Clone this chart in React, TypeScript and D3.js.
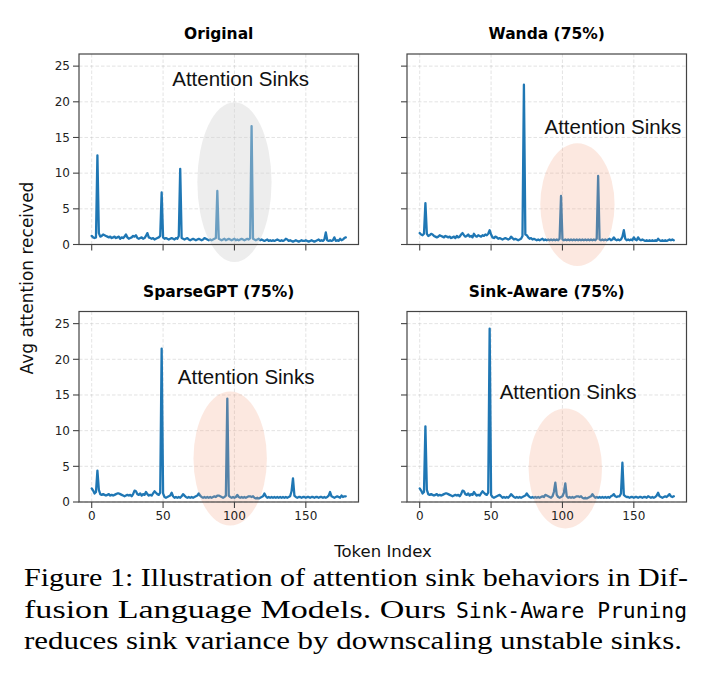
import { useMemo } from 'react';
import * as d3 from 'd3';

// Average attention received per token position (0..178) for each model variant.
const original = [
  1.2, 1.0, 0.9, 1.0, 12.5, 1.6, 1.1, 1.2, 1.4, 1.3,
  1.2, 1.1, 1.0, 1.1, 0.9, 1.0, 1.1, 0.9, 1.0, 1.1,
  0.8, 1.0, 0.9, 1.1, 1.4, 1.0, 0.8, 0.9, 1.0, 1.2,
  1.1, 1.3, 0.9, 0.8, 0.9, 1.0, 0.8, 0.9, 1.2, 1.6,
  1.0, 0.9, 0.8, 0.9, 0.7, 0.8, 0.9, 1.0, 1.2, 7.3,
  1.0, 0.8, 0.9, 0.8, 0.7, 0.8, 0.9, 0.8, 0.7, 0.9,
  0.8, 1.2, 10.6, 0.9, 0.8, 0.7, 0.8, 0.9, 0.7, 0.6,
  0.7, 0.8, 0.7, 0.6, 0.7, 0.8, 0.7, 0.6, 0.7, 0.9,
  0.8, 0.7, 0.6, 0.7, 0.6, 0.7, 0.8, 0.9, 7.5, 0.8,
  0.7, 0.6, 0.7, 0.8, 0.6, 0.7, 0.8, 0.7, 0.6, 0.7,
  0.8, 0.6, 0.7, 0.6, 0.7, 0.8, 0.7, 0.6, 0.7, 0.8,
  0.7, 0.9, 16.6, 0.8, 0.7, 0.6, 0.7, 0.8, 0.6, 0.7,
  0.6, 0.5, 0.6, 0.7, 0.5, 0.6, 0.5, 0.6, 0.5, 0.6,
  0.7, 0.6, 0.5, 0.6, 0.5, 0.6, 0.8, 0.7, 0.5, 0.6,
  0.5, 0.4, 0.5, 0.6, 0.5, 0.4, 0.5, 0.6, 0.5, 0.5,
  0.6, 0.5, 0.4, 0.5, 0.6, 0.5, 0.4, 0.5, 0.6, 0.7,
  0.5, 0.6, 0.5, 0.7, 1.7, 0.6, 0.5, 0.6, 0.5, 0.6,
  1.0, 0.5, 0.6, 0.5, 0.8, 0.6, 0.7, 0.9, 1.0,
];

const wanda = [
  1.6, 1.4, 1.3, 1.5, 5.8, 1.5, 1.2, 1.3, 1.5, 1.4,
  1.2, 1.1, 1.0, 1.1, 1.3, 1.2, 1.1, 1.0, 1.2, 1.1,
  1.0, 1.1, 0.9, 1.0, 1.1, 0.9, 1.2, 1.0, 1.1, 1.4,
  1.6, 1.3, 1.1, 1.2, 1.4, 1.1, 1.2, 1.0, 1.5, 1.2,
  1.1, 1.3, 1.2, 1.1, 1.3, 1.2, 1.4, 1.3, 1.5, 2.0,
  1.4, 1.0, 0.9, 1.1, 1.0, 0.8, 0.9, 0.8, 0.7, 0.8,
  0.9, 0.8, 0.7, 0.8, 1.1, 0.9, 0.7, 0.8, 0.7, 0.6,
  0.7, 0.8, 1.2, 22.4, 1.4, 1.3, 1.0, 0.8, 0.9, 0.7,
  0.8, 0.7, 0.6, 0.7, 0.6, 0.7, 0.8, 0.6, 0.7, 0.6,
  0.7, 0.6, 0.7, 0.6, 0.7, 0.6, 0.7, 0.6, 0.8, 6.8,
  0.7, 0.6, 0.7, 0.6, 0.7, 0.6, 0.7, 0.6, 0.7, 0.6,
  0.7, 0.6, 0.7, 0.6, 0.7, 0.6, 0.7, 0.6, 0.7, 0.6,
  0.7, 0.6, 0.7, 0.6, 0.8, 9.6, 0.7, 0.6, 0.7, 0.6,
  0.7, 0.6, 0.7, 0.8, 0.6, 0.7, 1.0, 0.7, 0.6, 0.7,
  0.6, 0.7, 1.1, 2.0, 0.8, 0.6, 0.7, 0.6, 0.7, 0.6,
  1.0, 0.7, 0.6, 1.0, 0.7, 0.6, 0.7, 0.6, 0.5, 0.6,
  0.5, 0.6, 0.5, 0.6, 0.5, 0.6, 0.5, 0.8, 0.6, 0.5,
  0.6, 0.5, 0.6, 0.5, 0.6, 0.7, 0.6, 0.7, 0.6,
];

const sparseGpt = [
  1.9, 1.6, 1.2, 1.4, 4.4, 1.7, 1.1, 1.0, 1.1, 1.0,
  0.9, 1.0, 1.1, 0.9, 1.0, 0.9, 1.0, 1.1, 1.2, 1.2,
  1.1, 1.0, 0.9, 0.8, 0.9, 1.0, 0.9, 1.0, 0.8, 1.1,
  1.6, 1.5, 1.1, 1.0, 1.2, 0.9, 1.1, 1.0, 1.4, 1.1,
  0.9, 1.0, 0.9, 1.2, 1.5, 1.3, 1.1, 1.0, 1.3, 21.5,
  1.2, 0.7, 0.6, 0.7, 0.8, 0.9, 1.3, 0.8, 0.6, 0.7,
  0.6, 0.7, 0.6, 0.8, 1.1, 0.9, 0.7, 0.6, 0.7, 0.6,
  0.7, 0.6, 0.7, 0.8, 0.9, 1.2, 0.9, 0.7, 0.6, 0.7,
  0.6, 0.7, 0.6, 0.7, 0.6, 0.7, 0.8, 0.7, 0.9, 0.9,
  0.8, 0.7, 0.6, 0.7, 0.9, 14.5, 0.9, 0.7, 0.6, 0.7,
  0.6, 0.7, 1.0, 0.7, 0.6, 0.7, 0.6, 0.7, 0.6, 0.7,
  0.8, 0.8, 0.7, 0.8, 0.6, 0.5, 0.6, 0.5, 0.6, 0.7,
  0.8, 1.2, 0.8, 0.6, 0.7, 0.6, 0.7, 0.6, 0.7, 0.6,
  0.7, 0.6, 0.7, 0.6, 0.7, 0.6, 0.7, 0.6, 0.7, 0.8,
  1.5, 3.3, 0.9, 0.7, 0.6, 0.7, 0.7, 0.6, 0.7, 0.7,
  0.6, 0.7, 0.7, 0.6, 0.7, 0.7, 0.6, 0.7, 0.7, 0.6,
  0.7, 0.7, 0.6, 0.7, 0.6, 0.7, 0.9, 1.4, 0.8, 0.7,
  0.6, 0.7, 0.8, 0.7, 0.6, 0.9, 0.7, 0.8, 0.8,
];

const sinkAware = [
  1.9, 1.6, 1.2, 1.4, 10.6, 1.7, 1.1, 1.0, 1.1, 1.0,
  0.9, 1.0, 1.1, 0.9, 1.0, 0.9, 1.0, 1.1, 1.2, 1.2,
  1.1, 1.0, 0.9, 0.8, 0.9, 1.0, 0.9, 1.0, 0.8, 1.1,
  1.6, 1.5, 1.1, 1.0, 1.2, 0.9, 1.1, 1.0, 1.4, 1.1,
  0.9, 1.0, 0.9, 1.2, 1.5, 1.3, 1.1, 1.0, 1.3, 24.3,
  1.0, 0.7, 0.6, 0.7, 0.8, 0.9, 1.0, 0.8, 0.6, 0.7,
  0.6, 0.7, 0.6, 0.8, 1.1, 0.9, 0.7, 0.6, 0.7, 0.6,
  0.7, 0.6, 0.7, 0.8, 0.9, 1.2, 0.9, 0.7, 0.6, 0.7,
  0.6, 0.7, 0.6, 0.7, 0.6, 0.7, 0.8, 0.7, 1.0, 0.9,
  0.8, 0.7, 0.6, 0.8, 1.4, 2.7, 1.0, 0.7, 0.6, 0.7,
  0.8, 1.3, 2.6, 0.8, 0.6, 0.7, 0.6, 0.7, 0.6, 0.7,
  0.8, 0.8, 0.7, 0.8, 0.6, 0.5, 0.6, 0.5, 0.6, 0.7,
  0.8, 1.1, 0.8, 0.6, 0.7, 0.6, 0.7, 0.6, 0.7, 0.6,
  0.7, 0.6, 0.7, 0.6, 0.8, 0.9, 1.1, 0.8, 0.7, 0.8,
  0.8, 1.2, 5.5, 1.0, 0.8, 0.7, 0.7, 0.6, 0.7, 0.7,
  0.6, 0.7, 0.7, 0.6, 0.7, 0.7, 0.6, 0.7, 0.7, 0.6,
  0.8, 0.7, 0.6, 0.7, 0.6, 0.7, 0.9, 1.3, 0.8, 0.7,
  0.6, 0.7, 0.8, 0.7, 0.9, 1.1, 0.8, 0.7, 0.8,
];

const panelTitles = ['Original', 'Wanda (75%)', 'SparseGPT (75%)', 'Sink-Aware (75%)'];
const panelSeries = [original, wanda, sparseGpt, sinkAware];

// highlighted sink region per panel, in data units: [centre token, centre value, half-width, half-height]
const sinkRegions: [number, number, number, number][] = [
  [100, 8.75, 26, 11.2],
  [110.5, 5.6, 26, 8.6],
  [97, 6.1, 25.7, 9.4],
  [102, 4.7, 25.7, 8.4],
];
// where the "Attention Sinks" note starts, in data units
const sinkLabelAt: [number, number][] = [
  [56.4, 22.2],
  [87.4, 15.5],
  [60.3, 16.5],
  [56, 14.5],
];

const xTicks = [0, 50, 100, 150];
const yTicks = [0, 5, 10, 15, 20, 25];

const captionLines = [
  'Figure 1: Illustration of attention sink behaviors in Dif-',
  'fusion Language Models. Ours',
  'reduces sink variance by downscaling unstable sinks.',
];
const captionCode = 'Sink-Aware Pruning';

const BLUE = '#1f77b4';
const SPINE = '#444';
const TICK_FONT = 'DejaVu Sans, sans-serif';
const SERIF = 'Liberation Serif, Times New Roman, serif';

const panelW = 279.5;
const panelH = 190.5;
const lefts = [79, 407];
const tops = [54, 311.5];

interface PanelProps {
  index: number;
  left: number;
  top: number;
  showXLabels: boolean;
  showYLabels: boolean;
}

function Panel(props: PanelProps) {
  const { index, left, top, showXLabels, showYLabels } = props;
  const values = panelSeries[index];

  const x = useMemo(
    () => d3.scaleLinear().domain([-8.9, 186.9]).range([left, left + panelW]),
    [left]
  );
  const y = useMemo(
    () => d3.scaleLinear().domain([0, 26.7]).range([top + panelH, top]),
    [top]
  );
  const path = useMemo(
    () =>
      d3
        .line<number>()
        .x((_d, i) => x(i))
        .y((d) => y(d))(values) ?? '',
    [values, x, y]
  );

  const [cx, cy, hw, hh] = sinkRegions[index];
  const [lx, ly] = sinkLabelAt[index];
  const fill = index === 0 ? '#d3d3d3' : '#f4a582';
  const alpha = index === 0 ? 0.42 : 0.25;
  const bottom = top + panelH;

  return (
    <g>
      {xTicks.map((t) => (
        <line
          key={`gx${t}`}
          x1={x(t)}
          x2={x(t)}
          y1={top}
          y2={bottom}
          stroke="#b0b0b0"
          strokeOpacity={0.45}
          strokeWidth={0.8}
          strokeDasharray="3.5,2"
        />
      ))}
      {yTicks.map((t) => (
        <line
          key={`gy${t}`}
          x1={left}
          x2={left + panelW}
          y1={y(t)}
          y2={y(t)}
          stroke="#b0b0b0"
          strokeOpacity={0.45}
          strokeWidth={0.8}
          strokeDasharray="3.5,2"
        />
      ))}
      <path
        d={path}
        fill="none"
        stroke={BLUE}
        strokeWidth={2.3}
        strokeLinejoin="round"
        strokeLinecap="round"
      />
      <ellipse
        cx={x(cx)}
        cy={y(cy)}
        rx={x(cx + hw) - x(cx)}
        ry={y(cy - hh) - y(cy)}
        fill={fill}
        fillOpacity={alpha}
      />
      <text
        x={x(lx)}
        y={y(ly)}
        fontFamily="Liberation Sans, Arial, sans-serif"
        fontSize={20.5}
        fill="#111"
      >
        Attention Sinks
      </text>
      <rect
        x={left}
        y={top}
        width={panelW}
        height={panelH}
        fill="none"
        stroke={SPINE}
        strokeWidth={1.2}
      />
      {xTicks.map((t) => (
        <g key={`tx${t}`}>
          <line x1={x(t)} x2={x(t)} y1={bottom} y2={bottom + 6} stroke={SPINE} strokeWidth={1.1} />
          {showXLabels && (
            <text
              x={x(t)}
              y={bottom + 17.5}
              textAnchor="middle"
              fontFamily={TICK_FONT}
              fontSize={12}
              fill="#222"
            >
              {t}
            </text>
          )}
        </g>
      ))}
      {yTicks.map((t) => (
        <g key={`ty${t}`}>
          <line x1={left - 6} x2={left} y1={y(t)} y2={y(t)} stroke={SPINE} strokeWidth={1.1} />
          {showYLabels && (
            <text
              x={left - 9}
              y={y(t) + 4.3}
              textAnchor="end"
              fontFamily={TICK_FONT}
              fontSize={12}
              fill="#222"
            >
              {t}
            </text>
          )}
        </g>
      ))}
      <text
        x={left + panelW / 2}
        y={top - 15}
        textAnchor="middle"
        fontFamily={TICK_FONT}
        fontWeight="bold"
        fontSize={15.5}
        fill="#000"
      >
        {panelTitles[index]}
      </text>
    </g>
  );
}

export default function App() {
  return (
    <svg
      width={710}
      height={691}
      viewBox="0 0 710 691"
      style={{ position: 'absolute', left: 0, top: 0, background: '#fff' }}
    >
      <rect width={710} height={691} fill="#fff" />
      {panelTitles.map((_t, i) => (
        <Panel
          key={i}
          index={i}
          left={lefts[i % 2]}
          top={tops[Math.floor(i / 2)]}
          showXLabels={i >= 2}
          showYLabels={i % 2 === 0}
        />
      ))}
      <text
        transform="translate(33, 278) rotate(-90)"
        textAnchor="middle"
        fontFamily={TICK_FONT}
        fontSize={17}
        fill="#111"
      >
        Avg attention received
      </text>
      <text x={383} y={557} textAnchor="middle" fontFamily={TICK_FONT} fontSize={16.5} fill="#111">
        Token Index
      </text>
      <g fontFamily={SERIF} fontSize={26} fill="#000">
        <text x={24} y={586} textLength={664} lengthAdjust="spacingAndGlyphs">
          {captionLines[0]}
        </text>
        <text x={24} y={617.5} textLength={422} lengthAdjust="spacingAndGlyphs">
          {captionLines[1]}
        </text>
        <text
          x={456}
          y={617.5}
          textLength={231}
          lengthAdjust="spacingAndGlyphs"
          fontFamily="DejaVu Sans Mono, monospace"
          fontSize={21.5}
        >
          {captionCode}
        </text>
        <text x={24} y={649} textLength={658} lengthAdjust="spacingAndGlyphs">
          {captionLines[2]}
        </text>
      </g>
    </svg>
  );
}
